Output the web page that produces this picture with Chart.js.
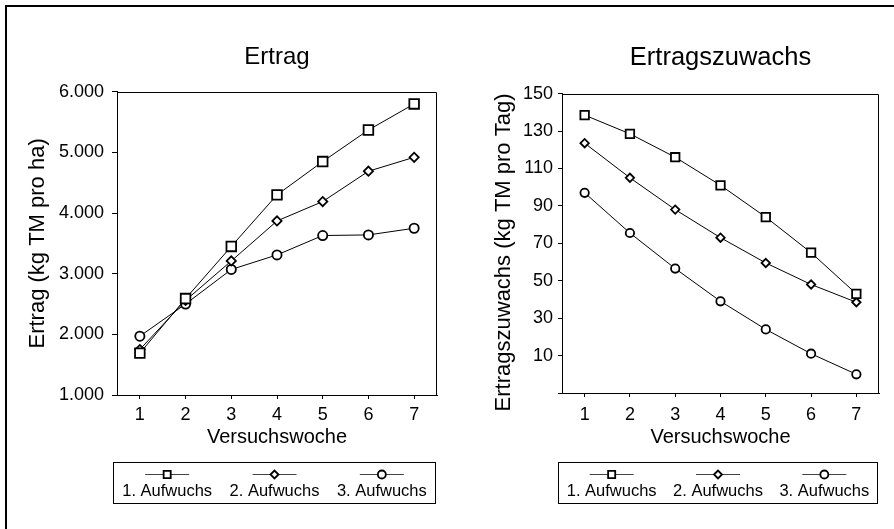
<!DOCTYPE html>
<html>
<head>
<meta charset="utf-8">
<script src="https://cdn.jsdelivr.net/npm/chart.js@4.4.1/dist/chart.umd.min.js"></script>
<style>
  html, body { margin: 0; padding: 0; background: #fff; }
  #page { position: relative; width: 894px; height: 529px; overflow: hidden; }
  #frame { position: absolute; left: 5px; top: 5px; width: 900px; height: 540px;
           border-top: 2px solid #000; border-left: 2px solid #000; }
  .box { position: absolute; top: 0; width: 447px; height: 529px; }
</style>
</head>
<body>
<div id="page">
  <div id="frame"></div>
  <div class="box" style="left:0"><canvas id="ertrag"></canvas></div>
  <div class="box" style="left:447px"><canvas id="zuwachs"></canvas></div>
</div>
<script>
// data
const weeks = ['1', '2', '3', '4', '5', '6', '7'];
const seriesNames = ['1. Aufwuchs', '2. Aufwuchs', '3. Aufwuchs'];

const ertrag1 = [1690, 2590, 3450, 4300, 4850, 5370, 5800];
const ertrag2 = [1750, 2560, 3210, 3870, 4190, 4690, 4920];
const ertrag3 = [1970, 2500, 3070, 3310, 3630, 3640, 3750];

const zuwachs1 = [138.5, 128.5, 116, 101, 84, 65, 43];
const zuwachs2 = [123.5, 105, 88, 73, 59.5, 48, 38.5];
const zuwachs3 = [97, 75.5, 56.5, 39, 24, 11, 0];

const ertragTicks = [1000, 2000, 3000, 4000, 5000, 6000];
const zuwachsTicks = [-10, 10, 30, 50, 70, 90, 110, 130, 150];

const FONT = "'Liberation Sans', Arial, sans-serif";
const markers = ['rect', 'rectRot', 'circle'];

// 6000 -> "6.000"
const fmtThousands = v => Math.floor(v / 1000) + '.' + String(v % 1000).padStart(3, '0');

// top + right side of the plot frame
const plotBox = {
    id: 'plotBox',
    beforeDatasetsDraw(chart) {
        const { left, top, right, bottom } = chart.chartArea;
        const ctx = chart.ctx;
        ctx.save();
        ctx.strokeStyle = '#000';
        ctx.lineWidth = 1;
        ctx.beginPath();
        ctx.moveTo(Math.round(left), Math.round(top) + 0.5);
        ctx.lineTo(Math.round(right) - 0.5, Math.round(top) + 0.5);
        ctx.lineTo(Math.round(right) - 0.5, Math.round(bottom));
        ctx.stroke();
        ctx.restore();
    }
};

// legend in a box, marker drawn over a short line, label below
const boxLegend = {
    id: 'boxLegend',
    afterDraw(chart, args, opts) {
        const ctx = chart.ctx;
        const area = chart.chartArea;
        const x0 = Math.round(area.left) - 3.5;
        const x1 = Math.round(area.right) - 1.5;
        const y0 = opts.top + 0.5;
        const y1 = opts.bottom + 0.5;
        ctx.save();
        ctx.strokeStyle = '#000';
        ctx.lineWidth = 1;
        ctx.strokeRect(x0, y0, x1 - x0, y1 - y0);
        const n = chart.data.datasets.length;
        const w = (x1 - x0) / n;
        chart.data.datasets.forEach((ds, i) => {
            const cx = x0 + w * (i + 0.5);
            ctx.strokeStyle = '#444';
            ctx.lineWidth = 1;
            ctx.beginPath();
            ctx.moveTo(cx - 22, opts.markerY + 0.5);
            ctx.lineTo(cx + 22, opts.markerY + 0.5);
            ctx.stroke();
            ctx.fillStyle = '#fff';
            ctx.strokeStyle = '#000';
            ctx.lineWidth = 1.8;
            Chart.helpers.drawPoint(ctx, {
                pointStyle: ds.pointStyle, radius: opts.radii[i], rotation: 0, borderWidth: 1.8
            }, cx, opts.markerY + 0.5);
            ctx.fillStyle = '#000';
            ctx.font = opts.fontSize + 'px ' + FONT;
            ctx.textAlign = 'center';
            ctx.textBaseline = 'middle';
            ctx.fillText(ds.label, cx, opts.textY);
        });
        ctx.restore();
    }
};

function series(label, data, style, r) {
    return {
        label, data,
        borderColor: '#000', borderWidth: 1,
        backgroundColor: '#fff',
        pointStyle: style, pointRadius: r, pointHoverRadius: r,
        pointBorderWidth: 1.8, pointBackgroundColor: '#fff', pointBorderColor: '#000',
        tension: 0
    };
}

function makeChart(id, cfg) {
    return new Chart(document.getElementById(id), {
        type: 'line',
        data: {
            labels: weeks,
            datasets: cfg.values.map((d, i) => series(seriesNames[i], d, markers[i], cfg.radii[i]))
        },
        options: {
            responsive: true,
            maintainAspectRatio: false,
            animation: false,
            events: [],
            layout: { padding: { left: 0, top: 0, right: cfg.padRight, bottom: 80 } },
            plugins: {
                legend: { display: false },
                tooltip: { enabled: false },
                title: {
                    display: true, text: cfg.title, color: '#000', fullSize: false,
                    font: { family: FONT, size: cfg.titleSize, weight: 'normal' },
                    padding: { top: 43, bottom: cfg.titleGap }
                },
                boxLegend: { top: 462, bottom: 503, markerY: 474, textY: 491, fontSize: 16.5, radii: [5, 4, 4] }
            },
            scales: {
                x: {
                    type: 'category', offset: true,
                    grid: { offset: false, drawOnChartArea: false, color: '#000', tickLength: 4 },
                    border: { color: '#000', width: 1 },
                    ticks: { color: '#000', font: { family: FONT, size: 18 }, padding: cfg.xPad, maxRotation: 0, autoSkip: false },
                    title: { display: true, text: 'Versuchswoche', color: '#000', font: { family: FONT, size: 20 }, padding: 0 },
                    afterFit(s) { s.height = cfg.xHeight; }
                },
                y: {
                    min: cfg.yTicks[0], max: cfg.yTicks[cfg.yTicks.length - 1],
                    afterBuildTicks(s) { s.ticks = cfg.yTicks.map(v => ({ value: v })); },
                    grid: { drawOnChartArea: false, color: '#000', tickLength: cfg.yTick },
                    border: { color: '#000', width: 1 },
                    ticks: { color: '#000', font: { family: FONT, size: 18 }, padding: cfg.yPad, callback: cfg.fmt },
                    title: { display: true, text: cfg.yTitle, color: '#000', font: { family: FONT, size: 22 },
                             padding: { top: cfg.yTitleOff, bottom: 0 } },
                    afterFit(s) { s.width = cfg.yWidth; }
                }
            }
        },
        plugins: [plotBox, boxLegend]
    });
}

makeChart('ertrag', {
    title: 'Ertrag', titleSize: 24,
    values: [ertrag1, ertrag2, ertrag3],
    radii: [6.8, 4.6, 4.6],
    yTicks: ertragTicks,
    fmt: v => fmtThousands(v),
    yTitle: 'Ertrag (kg TM pro ha)',
    yTitleOff: 24.3, yWidth: 117, yTick: 5, yPad: 8,
    xHeight: 54, xPad: 5,
    padRight: 10, titleGap: 20
});

makeChart('zuwachs', {
    title: 'Ertragszuwachs', titleSize: 25.5,
    values: [zuwachs1, zuwachs2, zuwachs3],
    radii: [6, 4.2, 4.2],
    yTicks: zuwachsTicks,
    fmt: v => (v < 0 ? '' : String(v)),
    yTitle: 'Ertragszuwachs (kg TM pro Tag)   ',
    yTitleOff: 43.7, yWidth: 115, yTick: 4, yPad: 5,
    xHeight: 56, xPad: 7,
    padRight: 15, titleGap: 20
});
</script>
</body>
</html>
